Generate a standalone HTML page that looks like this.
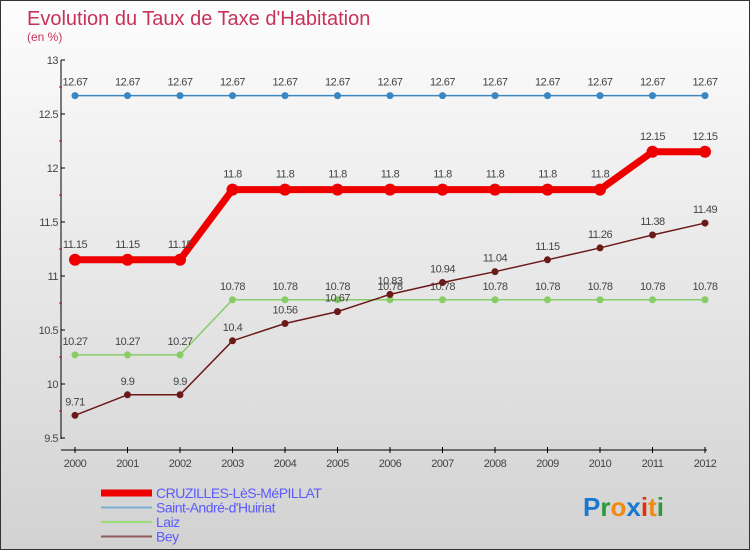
<!DOCTYPE html>
<html><head><meta charset="utf-8">
<style>
body{margin:0;}
#wrap{width:748px;height:548px;border:1px solid #333;background:linear-gradient(#fdfdfd,#d2d2d2);position:relative;overflow:hidden;font-family:"Liberation Sans",sans-serif;}
</style></head>
<body>
<div id="wrap">
<svg id="chart" width="748" height="548" xmlns="http://www.w3.org/2000/svg"></svg>
</div>
<script>
const years=[2000,2001,2002,2003,2004,2005,2006,2007,2008,2009,2010,2011,2012];
const cruz=[11.15,11.15,11.15,11.8,11.8,11.8,11.8,11.8,11.8,11.8,11.8,12.15,12.15];
const saint=[12.67,12.67,12.67,12.67,12.67,12.67,12.67,12.67,12.67,12.67,12.67,12.67,12.67];
const laiz=[10.27,10.27,10.27,10.78,10.78,10.78,10.78,10.78,10.78,10.78,10.78,10.78,10.78];
const bey=[9.71,9.9,9.9,10.4,10.56,10.67,10.83,10.94,11.04,11.15,11.26,11.38,11.49];
const yTicks=[9.5,10,10.5,11,11.5,12,12.5,13];
const yTickLabels=["9.5","10","10.5","11","11.5","12","12.5","13"];
const saintLabels=["12.67","12.67","12.67","12.67","12.67","12.67","12.67","12.67","12.67","12.67","12.67","12.67","12.67"];

const NS="http://www.w3.org/2000/svg";
const svg=document.getElementById('chart');
function X(i){return 74+i*52.5;}
function Y(v){return 437-(v-9.5)*108;}
function el(t,a,p){const e=document.createElementNS(NS,t);for(const k in a)e.setAttribute(k,a[k]);(p||svg).appendChild(e);return e;}

let t=el('text',{x:26,y:24,'font-size':20,fill:'#c8325a'});t.textContent="Evolution du Taux de Taxe d'Habitation";

t=el('text',{x:26,y:40,'font-size':12,fill:'#c8325a'});t.textContent="(en %)";


// axes
let a=el('line',{x1:60,y1:59,x2:60,y2:438,stroke:'#000','stroke-width':1});

a=el('line',{x1:60,y1:449,x2:706,y2:449,stroke:'#000','stroke-width':1});

yTicks.forEach((v,i)=>{
  el('line',{x1:60,y1:Y(v),x2:64,y2:Y(v),stroke:'#000'});
  if(i<yTicks.length-1) el('line',{x1:58,y1:Y(v+0.25),x2:61,y2:Y(v+0.25),stroke:'#e00'});
  const tx=el('text',{x:57,y:Y(v)+4,'font-size':11,fill:'#444','text-anchor':'end','letter-spacing':'-0.5'});
  tx.textContent=yTickLabels[i];
  
});
years.forEach((yr,i)=>{
  el('line',{x1:X(i),y1:446,x2:X(i),y2:452,stroke:'#000'});
  const tx=el('text',{x:X(i),y:466,'font-size':11,fill:'#444','text-anchor':'middle','letter-spacing':'-0.5'});
  tx.textContent=yr;
  
});

function series(vals,labels,color,w,r,name,dy){
  const g=el('g',{});
  
  const pts=vals.map((v,i)=>X(i)+','+Y(v)).join(' ');
  el('polyline',{points:pts,fill:'none',stroke:color,'stroke-width':w,'stroke-linejoin':'round'},g);
  vals.forEach((v,i)=>{
    const c=el('circle',{cx:X(i),cy:Y(v),r:r,fill:color},g);
    
    const tx=el('text',{x:X(i),y:Y(v)+dy,'font-size':11,fill:'#444','text-anchor':'middle','letter-spacing':'-0.5'},g);
    tx.textContent=labels?labels[i]:String(v);
    
  });
}
series(saint,saintLabels,'#3a86c0',1.5,3.5,'series-saint-andre',-10);
series(laiz,null,'#88cc66',1.5,3.5,'series-laiz',-10);
series(bey,null,'#6b1a1a',1.5,3.5,'series-bey',-10);
series(cruz,null,'#ee0000',7,6,'series-cruzilles',-12);

// legend
const leg=[['CRUZILLES-LèS-MéPILLAT','#ee0000',7],["Saint-André-d'Huiriat",'#7aaed0',2],['Laiz','#99dd77',2],['Bey','#8e5a5a',2]];
leg.forEach((l,i)=>{
  const g=el('g',{});
  
  const y=492+i*14.5;
  el('line',{x1:100,y1:y,x2:151,y2:y,stroke:l[1],'stroke-width':l[2]},g);
  const tx=el('text',{x:155,y:y+5,'font-size':14,fill:'#5a5aff','letter-spacing':'-0.5'},g);
  tx.textContent=l[0];
});
// logo
const logo=el('text',{x:582,y:515,'font-size':26,'font-weight':'bold'});

[['P','#1a78d0'],['r','#2a9a3a'],['o','#f08a10'],['x','#1a78d0'],['i','#e03010'],['t','#f08a10'],['i','#2a9a3a']].forEach(c=>{
  const s=el('tspan',{fill:c[1]},logo);s.textContent=c[0];
});
</script>
</body></html>
